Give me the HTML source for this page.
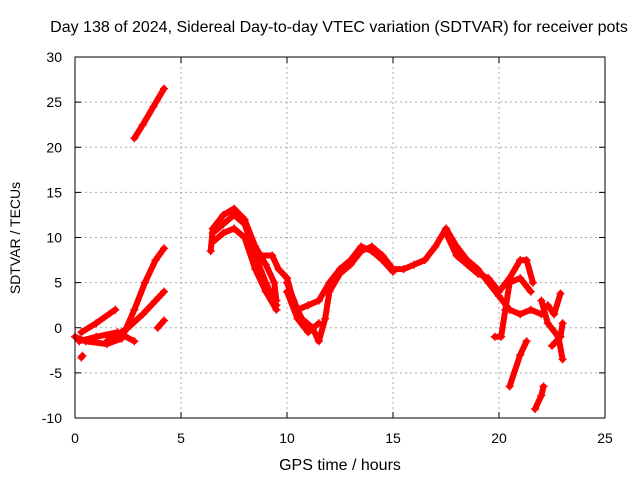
<!DOCTYPE html>
<html><head><meta charset="utf-8"><style>
body{margin:0;background:#fff;}
svg text{font-family:"Liberation Sans",sans-serif;font-size:14px;fill:#000;}
</style></head><body>
<svg id="chart" width="640" height="480" xmlns="http://www.w3.org/2000/svg">
<rect width="640" height="480" fill="#fff"/>
<text x="339" y="32" text-anchor="middle" style="font-size:16px">Day 138 of 2024, Sidereal Day-to-day VTEC variation (SDTVAR) for receiver pots</text>
<g id="grid"></g>
<g id="axes"></g>
<g id="series"></g>
<rect x="75" y="57" width="530" height="361" fill="none" stroke="#000" stroke-width="1"/>
<text x="340" y="470" text-anchor="middle" style="font-size:16px">GPS time / hours</text>
<text transform="translate(20,238) rotate(-90)" text-anchor="middle">SDTVAR / TECUs</text>
</svg>
<script>
const xTicks=[0,5,10,15,20,25];
const yTicks=[-10,-5,0,5,10,15,20,25,30];
const tracks=[
[[2.8,21],[3.2,22.5],[3.7,24.5],[4.2,26.5]],
[[0,-1],[0.5,-1.5],[1.5,-1.8],[2.2,-1.2],[2.8,2],[3.3,5],[3.8,7.5],[4.2,8.8]],
[[1.5,-1.5],[2.5,0],[3.2,1.5],[3.8,3],[4.2,4]],
[[0.3,-0.5],[1,0.5],[1.9,2]],
[[0.2,-1.5],[1,-1],[2,-0.5],[2.8,-1.5]],
[[3.9,0],[4.2,0.8]],
[[0.3,-3.3],[0.35,-3.1]],
[[6.4,8.5],[6.5,11],[7,12.5],[7.5,13.2],[8,12],[8.5,9],[9,7],[9.4,5],[9.5,3]],
[[6.5,10.5],[7,11.5],[7.5,12.5],[8,11.5],[8.5,8],[9,5],[9.5,2.5]],
[[6.5,9.5],[7,10.5],[7.5,11],[8,10],[8.5,6.5],[9,4],[9.5,2]],
[[8.8,8],[9.3,8],[9.6,6.5],[10,5.5],[10.3,3],[10.7,1],[11.2,0],[11.5,-1.5],[11.8,1],[12,4],[12.5,6],[13,7],[13.5,8.5],[14,9],[14.5,8],[15,6.5],[15.5,6.5],[16,7],[16.5,7.5],[17,9],[17.5,11],[18,9],[18.5,7.5],[19,6.5],[19.5,5],[20,3.5],[20.5,2],[21,1.5],[21.5,2],[22,1.5]],
[[10,5],[10.5,2],[11,2.5],[11.5,3],[12,5],[12.5,6.5],[13,7.5],[13.5,9],[14,8.5],[14.5,7.5],[15,6.2]],
[[10,4],[10.5,1],[11,-0.5],[11.5,0.5]],
[[17.5,10.5],[18,8],[18.5,7],[19,6],[19.5,5.5],[20,4],[20.5,5.5],[21,7.5],[21.3,7.5],[21.6,5]],
[[19.8,-1],[20.1,-1],[20.3,2],[20.5,5],[21,5.5],[21.5,4]],
[[20.5,-6.5],[21,-3],[21.3,-1.5]],
[[21.7,-9],[22,-7.5],[22.1,-6.5]],
[[22,3],[22.3,0.5],[22.8,-1],[23,-3.5]],
[[22.3,2.5],[22.6,1.5],[22.9,3.8]],
[[22.5,-2],[22.9,-1],[23,0.5]]
];
const X0=75,X1=605,Y0=418,Y1=57;
const xs=v=>X0+(v-0)/(25-0)*(X1-X0);
const ys=v=>Y0-(v+10)/(40)*(Y0-Y1);
const NS="http://www.w3.org/2000/svg";
const grid=document.getElementById('grid'),axes=document.getElementById('axes'),ser=document.getElementById('series');
function mk(t,a,p){const e=document.createElementNS(NS,t);for(const k in a)e.setAttribute(k,a[k]);p.appendChild(e);return e;}
xTicks.forEach(t=>{
 const x=xs(t);
 if(t>0&&t<25){const l=mk('line',{x1:x,x2:x,y1:Y1,y2:Y0,stroke:'#aaa','stroke-dasharray':'2,3'},grid);
 
 }
 mk('line',{x1:x,x2:x,y1:Y0,y2:Y0-6,stroke:'#000'},axes);
 mk('line',{x1:x,x2:x,y1:Y1,y2:Y1+6,stroke:'#000'},axes);
 const tx=mk('text',{x:x,y:Y0+25,'text-anchor':'middle'},axes);tx.textContent=t;
 
 
});
yTicks.forEach(t=>{
 const y=ys(t);
 if(t>-10&&t<30){const l=mk('line',{x1:X0,x2:X1,y1:y,y2:y,stroke:'#aaa','stroke-dasharray':'2,3'},grid);
 
 }
 mk('line',{x1:X0,x2:X0+6,y1:y,y2:y,stroke:'#000'},axes);
 mk('line',{x1:X1,x2:X1-6,y1:y,y2:y,stroke:'#000'},axes);
 const tx=mk('text',{x:X0-13,y:y+5,'text-anchor':'end'},axes);tx.textContent=t;
 
 
});
tracks.forEach(tr=>{
 const pl=mk('polyline',{points:tr.map(p=>xs(p[0])+','+ys(p[1])).join(' '),fill:'none',stroke:'#f00','stroke-width':6,'stroke-linejoin':'round','stroke-linecap':'round'},ser);
 
 
 tr.forEach(p=>{const x=xs(p[0]),y=ys(p[1]);
  const m=mk('path',{d:`M${x-4},${y}h8M${x},${y-4}v8`,stroke:'#f00','stroke-width':1.5},ser);
  
  });
});
</script>
</body></html>
